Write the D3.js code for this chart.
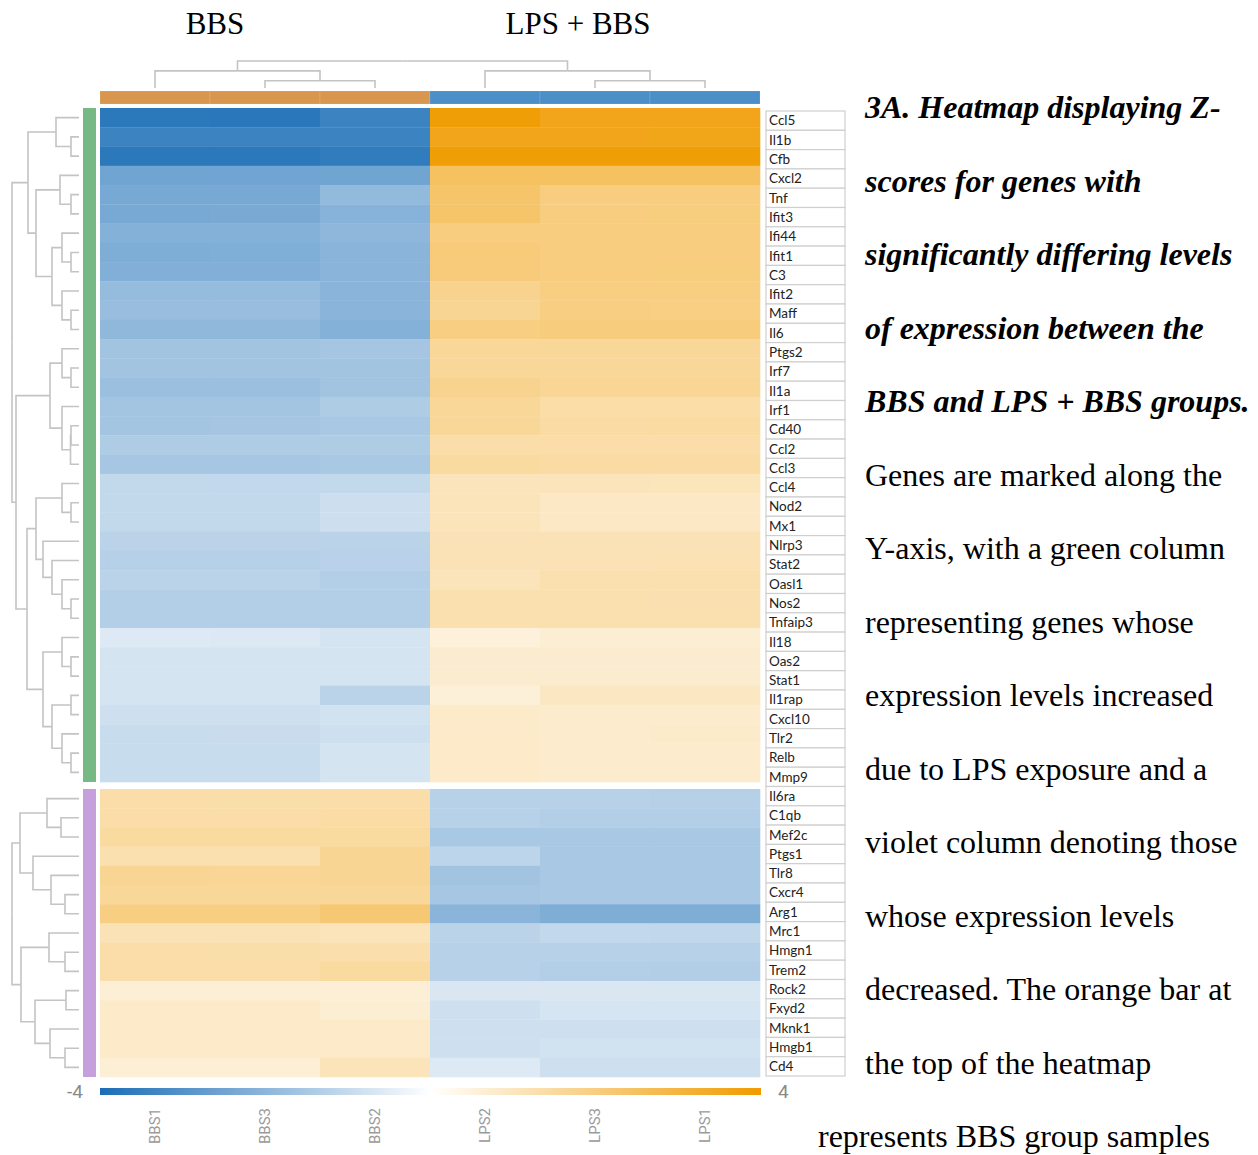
<!DOCTYPE html>
<html>
<head>
<meta charset="utf-8">
<script src="https://cdn.jsdelivr.net/npm/d3@7"></script>
<style>
  body { margin: 0; background: #fff; }
  text { font-family: "Liberation Serif", "Times New Roman", serif; }
</style>
</head>
<body>
<svg id="chart"></svg>
<script>
// samples in clustered column order
const samples = ["BBS1", "BBS3", "BBS2", "LPS2", "LPS3", "LPS1"];
const groupOf = ["BBS", "BBS", "BBS", "LPS", "LPS", "LPS"];

// genes up with LPS (green) and down (violet), clustered row order
const upGenes = ["Ccl5","Il1b","Cfb","Cxcl2","Tnf","Ifit3","Ifi44","Ifit1","C3","Ifit2","Maff","Il6",
  "Ptgs2","Irf7","Il1a","Irf1","Cd40","Ccl2","Ccl3","Ccl4","Nod2","Mx1","Nlrp3","Stat2","Oasl1","Nos2",
  "Tnfaip3","Il18","Oas2","Stat1","Il1rap","Cxcl10","Tlr2","Relb","Mmp9"];
const downGenes = ["Il6ra","C1qb","Mef2c","Ptgs1","Tlr8","Cxcr4","Arg1","Mrc1","Hmgn1","Trem2",
  "Rock2","Fxyd2","Mknk1","Hmgb1","Cd4"];

// z-scores per sample, up genes then down genes
const bbs1 = [-3.7,-3.4,-3.7,-2.5,-2.35,-2.35,-2.15,-2.25,-2.2,-1.86,-1.8,-1.95,-1.63,-1.63,-1.75,-1.6,-1.6,-1.4,-1.55,
  -1.07,-1.07,-1.07,-1.2,-1.3,-1.2,-1.33,-1.33,-0.6,-0.75,-0.75,-0.75,-0.85,-0.97,-0.97,-0.97,
  1.35,1.35,1.5,1.25,1.68,1.62,1.95,1.15,1.35,1.35,0.65,0.85,0.85,0.85,0.65];
const bbs3 = [-3.72,-3.4,-3.7,-2.48,-2.35,-2.33,-2.15,-2.23,-2.2,-1.84,-1.8,-1.95,-1.62,-1.63,-1.74,-1.6,-1.58,-1.4,-1.55,
  -1.06,-1.07,-1.07,-1.2,-1.29,-1.2,-1.33,-1.32,-0.62,-0.75,-0.74,-0.75,-0.85,-0.96,-0.97,-0.96,
  1.34,1.36,1.5,1.26,1.66,1.62,1.96,1.15,1.34,1.36,0.65,0.84,0.85,0.86,0.66];
const bbs2 = [-3.4,-3.4,-3.6,-2.5,-1.9,-2.1,-1.96,-2.05,-2.05,-2.05,-2.05,-2.15,-1.58,-1.63,-1.63,-1.4,-1.5,-1.4,-1.5,
  -1.07,-0.88,-0.88,-1.2,-1.22,-1.33,-1.33,-1.33,-0.75,-0.75,-0.75,-1.2,-0.8,-0.85,-0.75,-0.75,
  1.35,1.42,1.5,1.7,1.68,1.62,2.2,1.1,1.3,1.5,0.65,0.7,0.85,0.85,1.1];
const lps2 = [3.9,3.6,3.9,2.5,2.35,2.35,2.0,2.1,2.1,1.75,1.7,1.95,1.62,1.62,1.75,1.62,1.62,1.35,1.5,
  1.07,1.1,1.1,1.15,1.15,1.1,1.25,1.25,0.55,0.75,0.75,0.6,0.85,0.85,0.85,0.85,
  -1.27,-1.25,-1.5,-1.15,-1.63,-1.55,-2.05,-1.2,-1.27,-1.27,-0.65,-0.85,-0.85,-0.85,-0.6];
const lps3 = [3.6,3.6,3.9,2.5,2.0,2.0,2.0,2.0,2.0,1.95,1.95,2.05,1.62,1.62,1.65,1.38,1.45,1.35,1.45,
  1.07,0.92,0.92,1.15,1.15,1.25,1.25,1.25,0.7,0.75,0.75,0.95,0.8,0.8,0.8,0.8,
  -1.27,-1.33,-1.5,-1.5,-1.5,-1.5,-2.25,-1.07,-1.27,-1.33,-0.65,-0.72,-0.85,-0.8,-0.85];
const lps1 = [3.6,3.62,3.9,2.48,2.0,2.02,2.0,2.0,2.02,1.95,1.94,2.05,1.6,1.62,1.65,1.38,1.46,1.35,1.45,
  1.06,0.92,0.93,1.15,1.16,1.25,1.24,1.25,0.7,0.76,0.75,0.95,0.8,0.81,0.8,0.8,
  -1.28,-1.33,-1.5,-1.5,-1.52,-1.5,-2.25,-1.08,-1.27,-1.34,-0.66,-0.72,-0.85,-0.8,-0.85];
const zBySample = [bbs1, bbs3, bbs2, lps2, lps3, lps1];

// dendrograms: [merge height, left, right]
const colTree = [3, [1.9, "BBS1", [0.8, "BBS3", "BBS2"]], [1.9, "LPS2", [0.8, "LPS3", "LPS1"]]];
const upTree = [6.7,
  [5.1, [2.3, "Ccl5", [0.8, "Il1b", "Cfb"]],
        [4.3, [1.9, "Cxcl2", [0.8, "Tnf", "Ifit3"]],
              [2.7, [1.7, "Ifi44", [0.8, "Ifit1", "C3"]], [1.7, "Ifit2", [0.8, "Maff", "Il6"]]]]],
  [6.3, [2.9, [1.7, "Ptgs2", [0.8, "Irf7", "Il1a"]], [1.7, "Irf1", [0.85, [0.8, "Cd40", "Ccl2"], "Ccl3"]]],
        [5.2, [4.3, [1.7, "Ccl4", [0.8, "Nod2", "Mx1"]],
                    [3.6, "Nlrp3", [2.7, "Stat2", [1.7, "Oasl1", [0.8, "Nos2", "Tnfaip3"]]]]],
              [3.6, [1.7, "Il18", [0.8, "Oas2", "Stat1"]],
                    [2.7, [0.8, "Il1rap", "Cxcl10"], [1.7, "Tlr2", [0.8, "Relb", "Mmp9"]]]]]]];
const downTree = [6.7,
  [5.9, [3.2, "Il6ra", [1.8, "C1qb", "Mef2c"]], [4.6, "Ptgs1", [2.8, "Tlr8", [1.4, "Cxcr4", "Arg1"]]]],
  [5.8, [3.0, "Mrc1", [1.4, "Hmgn1", "Trem2"]], [4.4, [1.3, "Rock2", "Fxyd2"], [2.9, "Mknk1", [1.4, "Hmgb1", "Cd4"]]]]];

const titles = ["BBS", "LPS + BBS"];
const captionBold = ["3A. Heatmap displaying Z-", "scores for genes with", "significantly differing levels",
  "of expression between the", "BBS and LPS + BBS groups."];
const captionPlain = ["Genes are marked along the", "Y-axis, with a green column", "representing genes whose",
  "expression levels increased", "due to LPS exposure and a", "violet column denoting those",
  "whose expression levels", "decreased. The orange bar at", "the top of the heatmap"];
const captionLast = "represents BBS group samples";
const zDomain = [-4, 4];

const W = 1258, H = 1155;
const svg = d3.select("#chart").attr("width", W).attr("height", H);

const x = d3.scaleBand().domain(samples).range([100, 760]);
const yUp = d3.scaleBand().domain(upGenes).range([108, 782]);
const yDown = d3.scaleBand().domain(downGenes).range([789, 1077]);
const yLabel = d3.scaleBand().domain(upGenes.concat(downGenes)).range([111, 1076]);
const color = d3.scaleLinear().domain([zDomain[0], 0, zDomain[1]])
  .range(["#1a6db6", "#ffffff", "#f09b00"]).clamp(true);
const annColor = d3.scaleOrdinal().domain(["BBS", "LPS"]).range(["#d9964f", "#4a8fc8"]);
const rowDist = d3.scaleLinear().domain([0, 6.7]).range([79, 12]);
const colDist = d3.scaleLinear().domain([0, 3]).range([88, 61]);

// titles
svg.selectAll("text.title").data(titles).enter().append("text")
  .attr("class", "title")
  .attr("x", (d, i) => i == 0 ? 215 : 578)
  .attr("y", 34)
  .attr("text-anchor", "middle")
  .style("font-size", "31px")
  .text(d => d);

// column annotation bar
svg.append("g").selectAll("rect").data(samples).enter().append("rect")
  .attr("x", d => x(d)).attr("y", 91)
  .attr("width", x.bandwidth()).attr("height", 13)
  .attr("fill", (d, i) => annColor(groupOf[i]))
  .attr("stroke", "#fff").attr("stroke-opacity", 0.12);

// heatmap cells
const cells = [];
samples.forEach((s, j) => {
  upGenes.forEach((g, i) => cells.push({ s, y: yUp(g), h: yUp.bandwidth(), z: zBySample[j][i] }));
  downGenes.forEach((g, i) => cells.push({ s, y: yDown(g), h: yDown.bandwidth(), z: zBySample[j][upGenes.length + i] }));
});
svg.append("g").selectAll("rect").data(cells).enter().append("rect")
  .attr("x", d => x(d.s)).attr("y", d => d.y)
  .attr("width", x.bandwidth() + 0.3).attr("height", d => d.h + 0.3)
  .attr("fill", d => color(d.z));

// row group bars
svg.append("rect").attr("x", 83).attr("y", 108).attr("width", 13).attr("height", yUp.range()[1] - 108).attr("fill", "#76b985");
svg.append("rect").attr("x", 83).attr("y", 789).attr("width", 13).attr("height", yDown.range()[1] - 789).attr("fill", "#c5a0dd");

// dendrograms
function toHier(tree) {
  return d3.hierarchy(tree, d => Array.isArray(d) ? d.slice(1) : null);
}
function drawRowTree(tree, yScale) {
  const root = toHier(tree);
  root.eachAfter(n => {
    if (!n.children) { n.py = yScale(n.data) + yScale.bandwidth() / 2; n.px = rowDist(0); }
    else { n.py = (n.children[0].py + n.children[n.children.length - 1].py) / 2; n.px = rowDist(n.data[0]); }
  });
  svg.append("g").selectAll("path").data(root.descendants().filter(n => n.parent)).enter().append("path")
    .attr("d", n => `M${n.px},${n.py}H${n.parent.px}V${n.parent.py}`)
    .attr("fill", "none").attr("stroke", "#c4c4c4").attr("stroke-width", 1.6);
}
drawRowTree(upTree, yUp);
drawRowTree(downTree, yDown);

const croot = toHier(colTree);
croot.eachAfter(n => {
  if (!n.children) { n.px = x(n.data) + x.bandwidth() / 2; n.py = colDist(0); }
  else { n.px = (n.children[0].px + n.children[n.children.length - 1].px) / 2; n.py = colDist(n.data[0]); }
});
svg.append("g").selectAll("path").data(croot.descendants().filter(n => n.parent)).enter().append("path")
  .attr("d", n => `M${n.px},${n.py}V${n.parent.py}H${n.parent.px}`)
  .attr("fill", "none").attr("stroke", "#c4c4c4").attr("stroke-width", 1.6);

// gene label boxes
const lab = svg.append("g").selectAll("g").data(yLabel.domain()).enter().append("g")
  .attr("transform", d => `translate(766,${yLabel(d)})`);
lab.append("rect").attr("width", 79).attr("height", yLabel.bandwidth())
  .attr("fill", "#fff").attr("stroke", "#cfcfcf").attr("stroke-width", 1.2);
lab.append("text").attr("x", 3).attr("y", yLabel.bandwidth() / 2 + 4.8)
  .style("font-family", "Lato, 'Open Sans', sans-serif")
  .style("font-size", "13.5px").attr("fill", "#222")
  .text(d => d);

// colour legend bar
const grad = svg.append("defs").append("linearGradient").attr("id", "zgrad");
d3.range(0, 1.0001, 0.05).forEach(t => {
  grad.append("stop").attr("offset", t).attr("stop-color", color(zDomain[0] + t * (zDomain[1] - zDomain[0])));
});
svg.append("rect").attr("x", 100).attr("y", 1088).attr("width", 661).attr("height", 7).attr("fill", "url(#zgrad)");
svg.append("text").attr("x", 83).attr("y", 1098).attr("text-anchor", "end")
  .style("font-family", "Roboto, sans-serif").style("font-size", "19px").attr("fill", "#8a8a8a").text(zDomain[0]);
svg.append("text").attr("x", 778).attr("y", 1098)
  .style("font-family", "Roboto, sans-serif").style("font-size", "19px").attr("fill", "#8a8a8a").text(zDomain[1]);

// sample labels
svg.append("g").selectAll("text").data(samples).enter().append("text")
  .attr("transform", d => `translate(${x(d) + x.bandwidth() / 2 + 5},1108) rotate(-90)`)
  .attr("text-anchor", "end")
  .style("font-family", "Roboto, sans-serif").style("font-size", "15px").attr("fill", "#9a9a9a")
  .text(d => d);

// caption
const lineGap = 73.5;
captionBold.forEach((t, i) => {
  svg.append("text").attr("x", 865).attr("y", 118 + i * lineGap)
    .style("font-size", "32px").style("font-weight", "bold").style("font-style", "italic").text(t);
});
captionPlain.forEach((t, i) => {
  svg.append("text").attr("x", 865).attr("y", 118 + (i + captionBold.length) * lineGap)
    .style("font-size", "32px").text(t);
});
svg.append("text").attr("x", 818).attr("y", 118 + 14 * lineGap).style("font-size", "32px").text(captionLast);
</script>
</body>
</html>
